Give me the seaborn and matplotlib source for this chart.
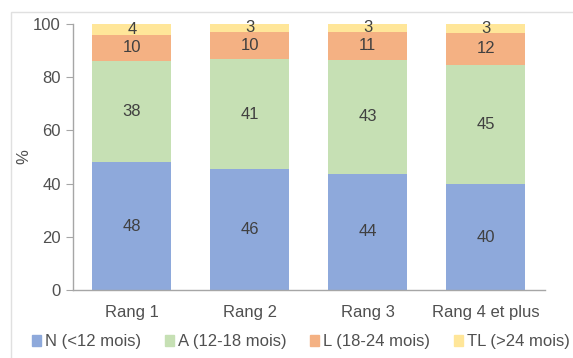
import numpy as np
import pandas as pd
import matplotlib
matplotlib.use("Agg")
import matplotlib.pyplot as plt
import matplotlib.patches as mpatches
import seaborn as sns

# Data (percent per rank)
categories = ["Rang 1", "Rang 2", "Rang 3", "Rang 4 et plus"]
n_vals = [48.0, 45.5, 43.6, 39.8]
a_vals = [38.0, 41.3, 42.9, 44.8]
l_vals = [10.0, 10.2, 10.6, 12.0]
tl_vals = [4.0, 3.0, 2.9, 3.4]
series_names = ["N (<12 mois)", "A (12-18 mois)", "L (18-24 mois)", "TL (>24 mois)"]
colors = ["#8EA9DB", "#C6E0B4", "#F4B183", "#FFE699"]

sns.set_style("white")
plt.rcParams["font.family"] = ["Liberation Sans", "DejaVu Sans"]

df = pd.DataFrame({"cat": categories, series_names[0]: n_vals, series_names[1]: a_vals,
                   series_names[2]: l_vals, series_names[3]: tl_vals})
vals = df[series_names].to_numpy()
cum = np.cumsum(vals, axis=1)

fig = plt.figure(figsize=(5.73, 3.58), dpi=100)
ax = fig.add_axes([0.127, 0.19, 0.824, 0.743])

# draw cumulative bars from the top series down so they stack
for i in range(len(series_names) - 1, -1, -1):
    sns.barplot(x=df["cat"], y=cum[:, i], color=colors[i], width=0.67,
                saturation=1, ax=ax, linewidth=0)

text_col = "#404040"
fs = 12
for j in range(len(categories)):
    for i in range(len(series_names)):
        bottom = cum[j, i] - vals[j, i]
        ax.text(j, bottom + vals[j, i] / 2, f"{round(vals[j, i]):d}", ha="center", va="center",
                fontsize=fs, color=text_col)

ax.set_ylim(0, 100)
ax.set_xlim(-0.5, 3.5)
ax.set_yticks([0, 20, 40, 60, 80, 100])
ax.set_xlabel("")
ax.set_ylabel("%", fontsize=fs, color="#505050")
ax.yaxis.set_label_coords(-0.088, 0.5)
for s in ["top", "right"]:
    ax.spines[s].set_visible(False)
for s in ["left", "bottom"]:
    ax.spines[s].set_color("#A6A6A6")
    ax.spines[s].set_linewidth(1.0)
ax.tick_params(axis="y", left=True, length=5, color="#A6A6A6", labelsize=fs, labelcolor="#505050")
ax.tick_params(axis="x", bottom=False, labelsize=fs, labelcolor="#505050", pad=7)

handles = [mpatches.Patch(color=c, label=n) for c, n in zip(colors, series_names)]
fig.legend(handles=handles, loc="center", bbox_to_anchor=(0.525, 0.045), ncol=4, frameon=False,
           fontsize=fs, handlelength=0.55, handleheight=0.55, handletextpad=0.25, columnspacing=1.4,
           labelcolor="#505050")

# light frame around the chart area
fig.patches.append(mpatches.Rectangle((0.019, -0.1), 1.2, 0.1 + 0.966, transform=fig.transFigure,
                                      fill=False, edgecolor="#E0E0E0", linewidth=1.0))

fig.savefig("out.png", dpi=100)
